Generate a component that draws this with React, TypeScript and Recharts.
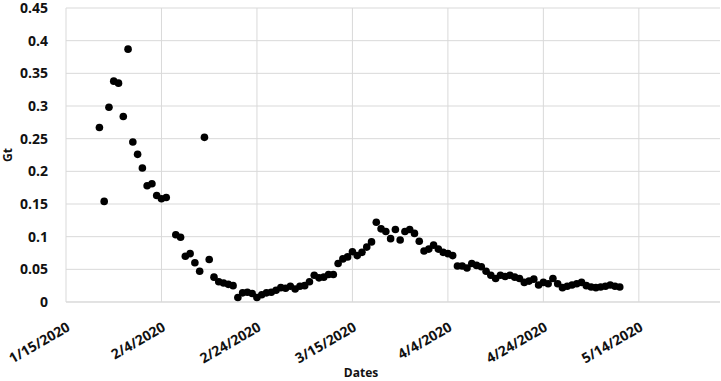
import { ScatterChart, Scatter, XAxis, YAxis, CartesianGrid, ReferenceLine } from 'recharts'

// daily observations (2/6 has no value)
const dates = [
  '1/22/2020', '1/23/2020', '1/24/2020', '1/25/2020', '1/26/2020', '1/27/2020', '1/28/2020', '1/29/2020',
  '1/30/2020', '1/31/2020', '2/1/2020', '2/2/2020', '2/3/2020', '2/4/2020', '2/5/2020',
  '2/7/2020', '2/8/2020', '2/9/2020', '2/10/2020', '2/11/2020', '2/12/2020', '2/13/2020', '2/14/2020',
  '2/15/2020', '2/16/2020', '2/17/2020', '2/18/2020', '2/19/2020', '2/20/2020', '2/21/2020', '2/22/2020',
  '2/23/2020', '2/24/2020', '2/25/2020', '2/26/2020', '2/27/2020', '2/28/2020', '2/29/2020',
  '3/1/2020', '3/2/2020', '3/3/2020', '3/4/2020', '3/5/2020', '3/6/2020', '3/7/2020', '3/8/2020',
  '3/9/2020', '3/10/2020', '3/11/2020', '3/12/2020', '3/13/2020', '3/14/2020', '3/15/2020', '3/16/2020',
  '3/17/2020', '3/18/2020', '3/19/2020', '3/20/2020', '3/21/2020', '3/22/2020', '3/23/2020', '3/24/2020',
  '3/25/2020', '3/26/2020', '3/27/2020', '3/28/2020', '3/29/2020', '3/30/2020', '3/31/2020',
  '4/1/2020', '4/2/2020', '4/3/2020', '4/4/2020', '4/5/2020', '4/6/2020', '4/7/2020', '4/8/2020',
  '4/9/2020', '4/10/2020', '4/11/2020', '4/12/2020', '4/13/2020', '4/14/2020', '4/15/2020', '4/16/2020',
  '4/17/2020', '4/18/2020', '4/19/2020', '4/20/2020', '4/21/2020', '4/22/2020', '4/23/2020', '4/24/2020',
  '4/25/2020', '4/26/2020', '4/27/2020', '4/28/2020', '4/29/2020', '4/30/2020',
  '5/1/2020', '5/2/2020', '5/3/2020', '5/4/2020', '5/5/2020', '5/6/2020', '5/7/2020', '5/8/2020',
  '5/9/2020', '5/10/2020',
]

const gt = [
  0.267, 0.154, 0.298, 0.338, 0.335, 0.284, 0.387, 0.245,
  0.226, 0.205, 0.178, 0.181, 0.163, 0.158, 0.160,
  0.103, 0.099, 0.070, 0.074, 0.060, 0.047, 0.252, 0.065,
  0.038, 0.031, 0.029, 0.027, 0.025, 0.007, 0.014, 0.015,
  0.013, 0.007, 0.011, 0.014, 0.015, 0.018, 0.022,
  0.021, 0.024, 0.020, 0.024, 0.025, 0.031, 0.041, 0.037,
  0.038, 0.042, 0.042, 0.059, 0.066, 0.069, 0.077, 0.071,
  0.076, 0.084, 0.092, 0.122, 0.112, 0.108, 0.097, 0.111,
  0.095, 0.108, 0.111, 0.105, 0.093, 0.078, 0.081,
  0.087, 0.081, 0.076, 0.074, 0.071, 0.055, 0.055, 0.052,
  0.059, 0.056, 0.054, 0.047, 0.041, 0.036, 0.041, 0.039,
  0.041, 0.038, 0.036, 0.030, 0.032, 0.035, 0.026, 0.030,
  0.028, 0.036, 0.028, 0.022, 0.024, 0.026,
  0.028, 0.030, 0.025, 0.023, 0.022, 0.023, 0.024, 0.026,
  0.024, 0.023,
]

const xTickDates = ['1/15/2020', '2/4/2020', '2/24/2020', '3/15/2020', '4/4/2020', '4/24/2020', '5/14/2020']
const yTicks = [0, 0.05, 0.1, 0.15, 0.2, 0.25, 0.3, 0.35, 0.4, 0.45]

const START = '1/15/2020'
const X_MAX = 137 // days shown after the start date

// days since START
function toDay(s: string) {
  const [m, d, y] = s.split('/').map(Number)
  const [m0, d0, y0] = START.split('/').map(Number)
  return (Date.UTC(y, m - 1, d) - Date.UTC(y0, m0 - 1, d0)) / 86400000
}

const data = dates.map((s, i) => ({ day: toDay(s), gt: gt[i], date: s }))
const xTicks = xTickDates.map(toDay)

const FONT = '"Open Sans", sans-serif'
const GRID = '#d9d9d9'

function DateTick(props: any) {
  const { x, y, payload } = props
  const label = xTickDates[xTicks.indexOf(payload.value)] ?? ''
  const bx = x + 5
  const by = y + 26
  return (
    <text
      x={bx}
      y={by}
      transform={`rotate(-30, ${bx}, ${by})`}
      textAnchor="end"
      fontFamily={FONT}
      fontWeight={700}
      fontSize={14}
      fill="#111"
    >
      {label}
    </text>
  )
}

export default function App() {
  return (
    <div style={{ position: 'absolute', left: 0, top: 0, background: '#fff' }}>
      <ScatterChart
        width={721}
        height={381}
        margin={{ top: 8, right: 1, left: 0, bottom: 0 }}
      >
        <CartesianGrid stroke={GRID} strokeWidth={1} vertical={false} />
        {xTicks.map((t) => (
          <ReferenceLine key={t} x={t} stroke={GRID} strokeWidth={1} />
        ))}

        <XAxis
          type="number"
          dataKey="day"
          domain={[0, X_MAX]}
          ticks={xTicks}
          interval={0}
          height={79}
          tickSize={0}
          tickLine={false}
          axisLine={{ stroke: GRID }}
          tick={<DateTick />}
        />

        <YAxis
          type="number"
          dataKey="gt"
          domain={[0, 0.45]}
          ticks={yTicks}
          interval={0}
          width={66}
          tickSize={0}
          tickMargin={18}
          tickLine={false}
          axisLine={false}
          tickFormatter={(v) => String(v)}
          tick={{ fontFamily: FONT, fontWeight: 700, fontSize: 14, fill: '#111' }}
        />

        <Scatter
          data={data}
          fill="#000"
          isAnimationActive={false}
          shape={(p: any) => <circle cx={p.cx} cy={p.cy} r={3.8} fill="#000" />}
        />

        <text
          x={12}
          y={155}
          transform="rotate(-90, 12, 155)"
          textAnchor="middle"
          fontFamily={FONT}
          fontWeight={700}
          fontSize={12}
          fill="#111"
        >
          Gt
        </text>
        <text
          x={361}
          y={377}
          textAnchor="middle"
          fontFamily={FONT}
          fontWeight={700}
          fontSize={12}
          fill="#111"
        >
          Dates
        </text>
      </ScatterChart>
    </div>
  )
}
